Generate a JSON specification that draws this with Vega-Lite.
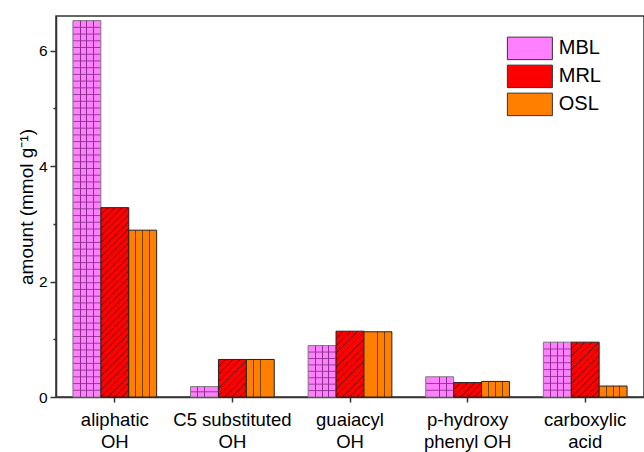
{
  "$schema": "https://vega.github.io/schema/vega-lite/v6.json",
  "width": 588,
  "height": 381,
  "autosize": {"type": "none"},
  "padding": {"left": 56, "top": 16, "right": 0, "bottom": 55},
  "background": "white",
  "config": {
    "font": "Liberation Sans",
    "view": {"stroke": "#333", "strokeWidth": 1.5}
  },
  "data": {
    "values": [
      {"category": "aliphatic OH", "sample": "MBL", "amount": 6.52},
      {"category": "aliphatic OH", "sample": "MRL", "amount": 3.28},
      {"category": "aliphatic OH", "sample": "OSL", "amount": 2.89},
      {"category": "C5 substituted OH", "sample": "MBL", "amount": 0.18},
      {"category": "C5 substituted OH", "sample": "MRL", "amount": 0.65},
      {"category": "C5 substituted OH", "sample": "OSL", "amount": 0.65},
      {"category": "guaiacyl OH", "sample": "MBL", "amount": 0.89},
      {"category": "guaiacyl OH", "sample": "MRL", "amount": 1.14},
      {"category": "guaiacyl OH", "sample": "OSL", "amount": 1.13},
      {"category": "p-hydroxy phenyl OH", "sample": "MBL", "amount": 0.35},
      {"category": "p-hydroxy phenyl OH", "sample": "MRL", "amount": 0.25},
      {"category": "p-hydroxy phenyl OH", "sample": "OSL", "amount": 0.27},
      {"category": "carboxylic acid", "sample": "MBL", "amount": 0.95},
      {"category": "carboxylic acid", "sample": "MRL", "amount": 0.95},
      {"category": "carboxylic acid", "sample": "OSL", "amount": 0.19}
    ]
  },
  "encoding": {
    "x": {
      "field": "category",
      "type": "nominal",
      "sort": ["aliphatic OH", "C5 substituted OH", "guaiacyl OH", "p-hydroxy phenyl OH", "carboxylic acid"],
      "scale": {"paddingInner": 0.288, "paddingOuter": 0.144},
      "axis": {
        "title": null,
        "labelAngle": 0,
        "labelFontSize": 18.5,
        "labelColor": "black",
        "labelLineHeight": 22,
        "labelPadding": 8,
        "tickSize": 5,
        "tickColor": "#333",
        "tickWidth": 1.5,
        "domainColor": "#333",
        "domainWidth": 1.5,
        "labelExpr": "{'aliphatic OH': ['aliphatic', 'OH'], 'C5 substituted OH': ['C5 substituted', 'OH'], 'guaiacyl OH': ['guaiacyl', 'OH'], 'p-hydroxy phenyl OH': ['p-hydroxy', 'phenyl OH'], 'carboxylic acid': ['carboxylic', 'acid']}[datum.label]"
      }
    },
    "xOffset": {"field": "sample", "sort": ["MBL", "MRL", "OSL"], "scale": {"domain": ["MBL", "MRL", "OSL"]}},
    "y": {
      "field": "amount",
      "type": "quantitative",
      "scale": {"domain": [0, 6.6], "nice": false},
      "axis": {
        "title": "amount (mmol g⁻¹)",
        "titleFontSize": 19,
        "titleFontWeight": "normal",
        "titleColor": "black",
        "titlePadding": 2,
        "values": [0, 1, 2, 3, 4, 5, 6],
        "labelExpr": "datum.value % 2 === 0 ? datum.label : ''",
        "labelFontSize": 15.5,
        "labelColor": "black",
        "labelPadding": 3,
        "grid": false,
        "tickSize": {"condition": {"test": "datum.value % 2 === 1", "value": 3}, "value": 6},
        "tickColor": "#333",
        "tickWidth": 1.5,
        "domainColor": "#333",
        "domainWidth": 1.5
      }
    }
  },
  "layer": [
    {
      "mark": {"type": "bar", "strokeWidth": 1},
      "encoding": {
        "stroke": {"condition": {"test": "datum.sample === 'MBL'", "value": "#7a7a7a"}, "value": "#222222"},
        "fill": {
          "field": "sample",
          "type": "nominal",
          "scale": {"domain": ["MBL", "MRL", "OSL"], "range": ["#FF80FF", "#FF0000", "#FF8000"]},
          "legend": {
            "orient": "none",
            "legendX": 463.875,
            "legendY": 22.375,
            "title": null,
            "padding": 0,
            "symbolType": "M-4,-2H4V2H-4Z",
            "symbolSize": 126.5625,
            "symbolStrokeColor": "#333",
            "symbolStrokeWidth": 1,
            "symbolOpacity": 1,
            "labelFontSize": 20,
            "labelColor": "black",
            "labelOffset": 18.875,
            "rowPadding": 0
          },
          "condition": [
            {"test": "datum.sample === 'MBL' && datum.category === 'aliphatic OH'", "value": {"gradient": "linear", "x1": 0, "y1": 0, "x2": 0, "y2": 1, "stops": [
              {"offset": 0, "color": "#FF80FF"},
              {"offset": 0.0152, "color": "#FF80FF"}, {"offset": 0.0179, "color": "#9A3A9A"}, {"offset": 0.0206, "color": "#FF80FF"},
              {"offset": 0.0330, "color": "#FF80FF"}, {"offset": 0.0357, "color": "#9A3A9A"}, {"offset": 0.0384, "color": "#FF80FF"},
              {"offset": 0.0509, "color": "#FF80FF"}, {"offset": 0.0536, "color": "#9A3A9A"}, {"offset": 0.0563, "color": "#FF80FF"},
              {"offset": 0.0687, "color": "#FF80FF"}, {"offset": 0.0714, "color": "#9A3A9A"}, {"offset": 0.0741, "color": "#FF80FF"},
              {"offset": 0.0866, "color": "#FF80FF"}, {"offset": 0.0893, "color": "#9A3A9A"}, {"offset": 0.0920, "color": "#FF80FF"},
              {"offset": 0.1044, "color": "#FF80FF"}, {"offset": 0.1071, "color": "#9A3A9A"}, {"offset": 0.1098, "color": "#FF80FF"},
              {"offset": 0.1223, "color": "#FF80FF"}, {"offset": 0.1250, "color": "#9A3A9A"}, {"offset": 0.1277, "color": "#FF80FF"},
              {"offset": 0.1402, "color": "#FF80FF"}, {"offset": 0.1429, "color": "#9A3A9A"}, {"offset": 0.1456, "color": "#FF80FF"},
              {"offset": 0.1580, "color": "#FF80FF"}, {"offset": 0.1607, "color": "#9A3A9A"}, {"offset": 0.1634, "color": "#FF80FF"},
              {"offset": 0.1759, "color": "#FF80FF"}, {"offset": 0.1786, "color": "#9A3A9A"}, {"offset": 0.1813, "color": "#FF80FF"},
              {"offset": 0.1937, "color": "#FF80FF"}, {"offset": 0.1964, "color": "#9A3A9A"}, {"offset": 0.1991, "color": "#FF80FF"},
              {"offset": 0.2116, "color": "#FF80FF"}, {"offset": 0.2143, "color": "#9A3A9A"}, {"offset": 0.2170, "color": "#FF80FF"},
              {"offset": 0.2294, "color": "#FF80FF"}, {"offset": 0.2321, "color": "#9A3A9A"}, {"offset": 0.2348, "color": "#FF80FF"},
              {"offset": 0.2473, "color": "#FF80FF"}, {"offset": 0.2500, "color": "#9A3A9A"}, {"offset": 0.2527, "color": "#FF80FF"},
              {"offset": 0.2652, "color": "#FF80FF"}, {"offset": 0.2679, "color": "#9A3A9A"}, {"offset": 0.2706, "color": "#FF80FF"},
              {"offset": 0.2830, "color": "#FF80FF"}, {"offset": 0.2857, "color": "#9A3A9A"}, {"offset": 0.2884, "color": "#FF80FF"},
              {"offset": 0.3009, "color": "#FF80FF"}, {"offset": 0.3036, "color": "#9A3A9A"}, {"offset": 0.3063, "color": "#FF80FF"},
              {"offset": 0.3187, "color": "#FF80FF"}, {"offset": 0.3214, "color": "#9A3A9A"}, {"offset": 0.3241, "color": "#FF80FF"},
              {"offset": 0.3366, "color": "#FF80FF"}, {"offset": 0.3393, "color": "#9A3A9A"}, {"offset": 0.3420, "color": "#FF80FF"},
              {"offset": 0.3544, "color": "#FF80FF"}, {"offset": 0.3571, "color": "#9A3A9A"}, {"offset": 0.3598, "color": "#FF80FF"},
              {"offset": 0.3723, "color": "#FF80FF"}, {"offset": 0.3750, "color": "#9A3A9A"}, {"offset": 0.3777, "color": "#FF80FF"},
              {"offset": 0.3902, "color": "#FF80FF"}, {"offset": 0.3929, "color": "#9A3A9A"}, {"offset": 0.3956, "color": "#FF80FF"},
              {"offset": 0.4080, "color": "#FF80FF"}, {"offset": 0.4107, "color": "#9A3A9A"}, {"offset": 0.4134, "color": "#FF80FF"},
              {"offset": 0.4259, "color": "#FF80FF"}, {"offset": 0.4286, "color": "#9A3A9A"}, {"offset": 0.4313, "color": "#FF80FF"},
              {"offset": 0.4437, "color": "#FF80FF"}, {"offset": 0.4464, "color": "#9A3A9A"}, {"offset": 0.4491, "color": "#FF80FF"},
              {"offset": 0.4616, "color": "#FF80FF"}, {"offset": 0.4643, "color": "#9A3A9A"}, {"offset": 0.4670, "color": "#FF80FF"},
              {"offset": 0.4794, "color": "#FF80FF"}, {"offset": 0.4821, "color": "#9A3A9A"}, {"offset": 0.4848, "color": "#FF80FF"},
              {"offset": 0.4973, "color": "#FF80FF"}, {"offset": 0.5000, "color": "#9A3A9A"}, {"offset": 0.5027, "color": "#FF80FF"},
              {"offset": 0.5152, "color": "#FF80FF"}, {"offset": 0.5179, "color": "#9A3A9A"}, {"offset": 0.5206, "color": "#FF80FF"},
              {"offset": 0.5330, "color": "#FF80FF"}, {"offset": 0.5357, "color": "#9A3A9A"}, {"offset": 0.5384, "color": "#FF80FF"},
              {"offset": 0.5509, "color": "#FF80FF"}, {"offset": 0.5536, "color": "#9A3A9A"}, {"offset": 0.5563, "color": "#FF80FF"},
              {"offset": 0.5687, "color": "#FF80FF"}, {"offset": 0.5714, "color": "#9A3A9A"}, {"offset": 0.5741, "color": "#FF80FF"},
              {"offset": 0.5866, "color": "#FF80FF"}, {"offset": 0.5893, "color": "#9A3A9A"}, {"offset": 0.5920, "color": "#FF80FF"},
              {"offset": 0.6044, "color": "#FF80FF"}, {"offset": 0.6071, "color": "#9A3A9A"}, {"offset": 0.6098, "color": "#FF80FF"},
              {"offset": 0.6223, "color": "#FF80FF"}, {"offset": 0.6250, "color": "#9A3A9A"}, {"offset": 0.6277, "color": "#FF80FF"},
              {"offset": 0.6402, "color": "#FF80FF"}, {"offset": 0.6429, "color": "#9A3A9A"}, {"offset": 0.6456, "color": "#FF80FF"},
              {"offset": 0.6580, "color": "#FF80FF"}, {"offset": 0.6607, "color": "#9A3A9A"}, {"offset": 0.6634, "color": "#FF80FF"},
              {"offset": 0.6759, "color": "#FF80FF"}, {"offset": 0.6786, "color": "#9A3A9A"}, {"offset": 0.6813, "color": "#FF80FF"},
              {"offset": 0.6937, "color": "#FF80FF"}, {"offset": 0.6964, "color": "#9A3A9A"}, {"offset": 0.6991, "color": "#FF80FF"},
              {"offset": 0.7116, "color": "#FF80FF"}, {"offset": 0.7143, "color": "#9A3A9A"}, {"offset": 0.7170, "color": "#FF80FF"},
              {"offset": 0.7294, "color": "#FF80FF"}, {"offset": 0.7321, "color": "#9A3A9A"}, {"offset": 0.7348, "color": "#FF80FF"},
              {"offset": 0.7473, "color": "#FF80FF"}, {"offset": 0.7500, "color": "#9A3A9A"}, {"offset": 0.7527, "color": "#FF80FF"},
              {"offset": 0.7652, "color": "#FF80FF"}, {"offset": 0.7679, "color": "#9A3A9A"}, {"offset": 0.7706, "color": "#FF80FF"},
              {"offset": 0.7830, "color": "#FF80FF"}, {"offset": 0.7857, "color": "#9A3A9A"}, {"offset": 0.7884, "color": "#FF80FF"},
              {"offset": 0.8009, "color": "#FF80FF"}, {"offset": 0.8036, "color": "#9A3A9A"}, {"offset": 0.8063, "color": "#FF80FF"},
              {"offset": 0.8187, "color": "#FF80FF"}, {"offset": 0.8214, "color": "#9A3A9A"}, {"offset": 0.8241, "color": "#FF80FF"},
              {"offset": 0.8366, "color": "#FF80FF"}, {"offset": 0.8393, "color": "#9A3A9A"}, {"offset": 0.8420, "color": "#FF80FF"},
              {"offset": 0.8544, "color": "#FF80FF"}, {"offset": 0.8571, "color": "#9A3A9A"}, {"offset": 0.8598, "color": "#FF80FF"},
              {"offset": 0.8723, "color": "#FF80FF"}, {"offset": 0.8750, "color": "#9A3A9A"}, {"offset": 0.8777, "color": "#FF80FF"},
              {"offset": 0.8902, "color": "#FF80FF"}, {"offset": 0.8929, "color": "#9A3A9A"}, {"offset": 0.8956, "color": "#FF80FF"},
              {"offset": 0.9080, "color": "#FF80FF"}, {"offset": 0.9107, "color": "#9A3A9A"}, {"offset": 0.9134, "color": "#FF80FF"},
              {"offset": 0.9259, "color": "#FF80FF"}, {"offset": 0.9286, "color": "#9A3A9A"}, {"offset": 0.9313, "color": "#FF80FF"},
              {"offset": 0.9437, "color": "#FF80FF"}, {"offset": 0.9464, "color": "#9A3A9A"}, {"offset": 0.9491, "color": "#FF80FF"},
              {"offset": 0.9616, "color": "#FF80FF"}, {"offset": 0.9643, "color": "#9A3A9A"}, {"offset": 0.9670, "color": "#FF80FF"},
              {"offset": 0.9794, "color": "#FF80FF"}, {"offset": 0.9821, "color": "#9A3A9A"}, {"offset": 0.9848, "color": "#FF80FF"},
              {"offset": 1, "color": "#FF80FF"}
            ]}},
            {"test": "datum.sample === 'MBL' && datum.category === 'C5 substituted OH'", "value": {"gradient": "linear", "x1": 0, "y1": 0, "x2": 0, "y2": 1, "stops": [
              {"offset": 0, "color": "#FF80FF"},
              {"offset": 0.40, "color": "#FF80FF"}, {"offset": 0.5, "color": "#9A3A9A"}, {"offset": 0.60, "color": "#FF80FF"},
              {"offset": 1, "color": "#FF80FF"}
            ]}},
            {"test": "datum.sample === 'MBL' && datum.category === 'guaiacyl OH'", "value": {"gradient": "linear", "x1": 0, "y1": 0, "x2": 0, "y2": 1, "stops": [
              {"offset": 0, "color": "#FF80FF"},
              {"offset": 0.1055, "color": "#FF80FF"}, {"offset": 0.125, "color": "#9A3A9A"}, {"offset": 0.1445, "color": "#FF80FF"},
              {"offset": 0.2305, "color": "#FF80FF"}, {"offset": 0.25, "color": "#9A3A9A"}, {"offset": 0.2695, "color": "#FF80FF"},
              {"offset": 0.3555, "color": "#FF80FF"}, {"offset": 0.375, "color": "#9A3A9A"}, {"offset": 0.3945, "color": "#FF80FF"},
              {"offset": 0.4805, "color": "#FF80FF"}, {"offset": 0.5, "color": "#9A3A9A"}, {"offset": 0.5195, "color": "#FF80FF"},
              {"offset": 0.6055, "color": "#FF80FF"}, {"offset": 0.625, "color": "#9A3A9A"}, {"offset": 0.6445, "color": "#FF80FF"},
              {"offset": 0.7305, "color": "#FF80FF"}, {"offset": 0.75, "color": "#9A3A9A"}, {"offset": 0.7695, "color": "#FF80FF"},
              {"offset": 0.8555, "color": "#FF80FF"}, {"offset": 0.875, "color": "#9A3A9A"}, {"offset": 0.8945, "color": "#FF80FF"},
              {"offset": 1, "color": "#FF80FF"}
            ]}},
            {"test": "datum.sample === 'MBL' && datum.category === 'p-hydroxy phenyl OH'", "value": {"gradient": "linear", "x1": 0, "y1": 0, "x2": 0, "y2": 1, "stops": [
              {"offset": 0, "color": "#FF80FF"},
              {"offset": 0.2833, "color": "#FF80FF"}, {"offset": 0.3333, "color": "#9A3A9A"}, {"offset": 0.3833, "color": "#FF80FF"},
              {"offset": 0.6167, "color": "#FF80FF"}, {"offset": 0.6667, "color": "#9A3A9A"}, {"offset": 0.7167, "color": "#FF80FF"},
              {"offset": 1, "color": "#FF80FF"}
            ]}},
            {"test": "datum.sample === 'MBL' && datum.category === 'carboxylic acid'", "value": {"gradient": "linear", "x1": 0, "y1": 0, "x2": 0, "y2": 1, "stops": [
              {"offset": 0, "color": "#FF80FF"},
              {"offset": 0.107, "color": "#FF80FF"}, {"offset": 0.125, "color": "#9A3A9A"}, {"offset": 0.143, "color": "#FF80FF"},
              {"offset": 0.232, "color": "#FF80FF"}, {"offset": 0.25, "color": "#9A3A9A"}, {"offset": 0.268, "color": "#FF80FF"},
              {"offset": 0.357, "color": "#FF80FF"}, {"offset": 0.375, "color": "#9A3A9A"}, {"offset": 0.393, "color": "#FF80FF"},
              {"offset": 0.482, "color": "#FF80FF"}, {"offset": 0.5, "color": "#9A3A9A"}, {"offset": 0.518, "color": "#FF80FF"},
              {"offset": 0.607, "color": "#FF80FF"}, {"offset": 0.625, "color": "#9A3A9A"}, {"offset": 0.643, "color": "#FF80FF"},
              {"offset": 0.732, "color": "#FF80FF"}, {"offset": 0.75, "color": "#9A3A9A"}, {"offset": 0.768, "color": "#FF80FF"},
              {"offset": 0.857, "color": "#FF80FF"}, {"offset": 0.875, "color": "#9A3A9A"}, {"offset": 0.893, "color": "#FF80FF"},
              {"offset": 1, "color": "#FF80FF"}
            ]}},
            {"test": "datum.sample === 'MRL' && datum.category === 'aliphatic OH'", "value": {"gradient": "linear", "x1": 0, "y1": 0, "x2": 0.1655, "y2": 1.1229, "stops": [
              {"offset": 0, "color": "#FF0000"},
              {"offset": 0.0278, "color": "#FF0000"}, {"offset": 0.0323, "color": "#700000"}, {"offset": 0.0368, "color": "#FF0000"},
              {"offset": 0.0600, "color": "#FF0000"}, {"offset": 0.0645, "color": "#700000"}, {"offset": 0.0690, "color": "#FF0000"},
              {"offset": 0.0923, "color": "#FF0000"}, {"offset": 0.0968, "color": "#700000"}, {"offset": 0.1013, "color": "#FF0000"},
              {"offset": 0.1245, "color": "#FF0000"}, {"offset": 0.1290, "color": "#700000"}, {"offset": 0.1335, "color": "#FF0000"},
              {"offset": 0.1568, "color": "#FF0000"}, {"offset": 0.1613, "color": "#700000"}, {"offset": 0.1658, "color": "#FF0000"},
              {"offset": 0.1890, "color": "#FF0000"}, {"offset": 0.1935, "color": "#700000"}, {"offset": 0.1980, "color": "#FF0000"},
              {"offset": 0.2213, "color": "#FF0000"}, {"offset": 0.2258, "color": "#700000"}, {"offset": 0.2303, "color": "#FF0000"},
              {"offset": 0.2536, "color": "#FF0000"}, {"offset": 0.2581, "color": "#700000"}, {"offset": 0.2626, "color": "#FF0000"},
              {"offset": 0.2858, "color": "#FF0000"}, {"offset": 0.2903, "color": "#700000"}, {"offset": 0.2948, "color": "#FF0000"},
              {"offset": 0.3181, "color": "#FF0000"}, {"offset": 0.3226, "color": "#700000"}, {"offset": 0.3271, "color": "#FF0000"},
              {"offset": 0.3503, "color": "#FF0000"}, {"offset": 0.3548, "color": "#700000"}, {"offset": 0.3593, "color": "#FF0000"},
              {"offset": 0.3826, "color": "#FF0000"}, {"offset": 0.3871, "color": "#700000"}, {"offset": 0.3916, "color": "#FF0000"},
              {"offset": 0.4149, "color": "#FF0000"}, {"offset": 0.4194, "color": "#700000"}, {"offset": 0.4239, "color": "#FF0000"},
              {"offset": 0.4471, "color": "#FF0000"}, {"offset": 0.4516, "color": "#700000"}, {"offset": 0.4561, "color": "#FF0000"},
              {"offset": 0.4794, "color": "#FF0000"}, {"offset": 0.4839, "color": "#700000"}, {"offset": 0.4884, "color": "#FF0000"},
              {"offset": 0.5116, "color": "#FF0000"}, {"offset": 0.5161, "color": "#700000"}, {"offset": 0.5206, "color": "#FF0000"},
              {"offset": 0.5439, "color": "#FF0000"}, {"offset": 0.5484, "color": "#700000"}, {"offset": 0.5529, "color": "#FF0000"},
              {"offset": 0.5761, "color": "#FF0000"}, {"offset": 0.5806, "color": "#700000"}, {"offset": 0.5851, "color": "#FF0000"},
              {"offset": 0.6084, "color": "#FF0000"}, {"offset": 0.6129, "color": "#700000"}, {"offset": 0.6174, "color": "#FF0000"},
              {"offset": 0.6407, "color": "#FF0000"}, {"offset": 0.6452, "color": "#700000"}, {"offset": 0.6497, "color": "#FF0000"},
              {"offset": 0.6729, "color": "#FF0000"}, {"offset": 0.6774, "color": "#700000"}, {"offset": 0.6819, "color": "#FF0000"},
              {"offset": 0.7052, "color": "#FF0000"}, {"offset": 0.7097, "color": "#700000"}, {"offset": 0.7142, "color": "#FF0000"},
              {"offset": 0.7374, "color": "#FF0000"}, {"offset": 0.7419, "color": "#700000"}, {"offset": 0.7464, "color": "#FF0000"},
              {"offset": 0.7697, "color": "#FF0000"}, {"offset": 0.7742, "color": "#700000"}, {"offset": 0.7787, "color": "#FF0000"},
              {"offset": 0.8020, "color": "#FF0000"}, {"offset": 0.8065, "color": "#700000"}, {"offset": 0.8110, "color": "#FF0000"},
              {"offset": 0.8342, "color": "#FF0000"}, {"offset": 0.8387, "color": "#700000"}, {"offset": 0.8432, "color": "#FF0000"},
              {"offset": 0.8665, "color": "#FF0000"}, {"offset": 0.8710, "color": "#700000"}, {"offset": 0.8755, "color": "#FF0000"},
              {"offset": 0.8987, "color": "#FF0000"}, {"offset": 0.9032, "color": "#700000"}, {"offset": 0.9077, "color": "#FF0000"},
              {"offset": 0.9310, "color": "#FF0000"}, {"offset": 0.9355, "color": "#700000"}, {"offset": 0.9400, "color": "#FF0000"},
              {"offset": 0.9632, "color": "#FF0000"}, {"offset": 0.9677, "color": "#700000"}, {"offset": 0.9722, "color": "#FF0000"},
              {"offset": 1, "color": "#FF0000"}
            ]}},
            {"test": "datum.sample === 'MRL' && datum.category === 'C5 substituted OH'", "value": {"gradient": "linear", "x1": 0, "y1": 0, "x2": 0.8354, "y2": 1.1228, "stops": [
              {"offset": 0, "color": "#FF0000"},
              {"offset": 0.0961, "color": "#FF0000"}, {"offset": 0.1111, "color": "#700000"}, {"offset": 0.1261, "color": "#FF0000"},
              {"offset": 0.2072, "color": "#FF0000"}, {"offset": 0.2222, "color": "#700000"}, {"offset": 0.2372, "color": "#FF0000"},
              {"offset": 0.3183, "color": "#FF0000"}, {"offset": 0.3333, "color": "#700000"}, {"offset": 0.3483, "color": "#FF0000"},
              {"offset": 0.4294, "color": "#FF0000"}, {"offset": 0.4444, "color": "#700000"}, {"offset": 0.4594, "color": "#FF0000"},
              {"offset": 0.5406, "color": "#FF0000"}, {"offset": 0.5556, "color": "#700000"}, {"offset": 0.5706, "color": "#FF0000"},
              {"offset": 0.6517, "color": "#FF0000"}, {"offset": 0.6667, "color": "#700000"}, {"offset": 0.6817, "color": "#FF0000"},
              {"offset": 0.7628, "color": "#FF0000"}, {"offset": 0.7778, "color": "#700000"}, {"offset": 0.7928, "color": "#FF0000"},
              {"offset": 0.8739, "color": "#FF0000"}, {"offset": 0.8889, "color": "#700000"}, {"offset": 0.9039, "color": "#FF0000"},
              {"offset": 1, "color": "#FF0000"}
            ]}},
            {"test": "datum.sample === 'MRL' && datum.category === 'guaiacyl OH'", "value": {"gradient": "linear", "x1": 0, "y1": 0, "x2": 0.5118, "y2": 1.2068, "stops": [
              {"offset": 0, "color": "#FF0000"},
              {"offset": 0.0664, "color": "#FF0000"}, {"offset": 0.0769, "color": "#700000"}, {"offset": 0.0874, "color": "#FF0000"},
              {"offset": 0.1433, "color": "#FF0000"}, {"offset": 0.1538, "color": "#700000"}, {"offset": 0.1643, "color": "#FF0000"},
              {"offset": 0.2203, "color": "#FF0000"}, {"offset": 0.2308, "color": "#700000"}, {"offset": 0.2413, "color": "#FF0000"},
              {"offset": 0.2972, "color": "#FF0000"}, {"offset": 0.3077, "color": "#700000"}, {"offset": 0.3182, "color": "#FF0000"},
              {"offset": 0.3741, "color": "#FF0000"}, {"offset": 0.3846, "color": "#700000"}, {"offset": 0.3951, "color": "#FF0000"},
              {"offset": 0.4510, "color": "#FF0000"}, {"offset": 0.4615, "color": "#700000"}, {"offset": 0.4720, "color": "#FF0000"},
              {"offset": 0.5280, "color": "#FF0000"}, {"offset": 0.5385, "color": "#700000"}, {"offset": 0.5490, "color": "#FF0000"},
              {"offset": 0.6049, "color": "#FF0000"}, {"offset": 0.6154, "color": "#700000"}, {"offset": 0.6259, "color": "#FF0000"},
              {"offset": 0.6818, "color": "#FF0000"}, {"offset": 0.6923, "color": "#700000"}, {"offset": 0.7028, "color": "#FF0000"},
              {"offset": 0.7587, "color": "#FF0000"}, {"offset": 0.7692, "color": "#700000"}, {"offset": 0.7797, "color": "#FF0000"},
              {"offset": 0.8357, "color": "#FF0000"}, {"offset": 0.8462, "color": "#700000"}, {"offset": 0.8567, "color": "#FF0000"},
              {"offset": 0.9126, "color": "#FF0000"}, {"offset": 0.9231, "color": "#700000"}, {"offset": 0.9336, "color": "#FF0000"},
              {"offset": 1, "color": "#FF0000"}
            ]}},
            {"test": "datum.sample === 'MRL' && datum.category === 'p-hydroxy phenyl OH'", "value": {"gradient": "linear", "x1": 0, "y1": 0, "x2": 1.197, "y2": 0.6177, "stops": [
              {"offset": 0, "color": "#FF0000"},
              {"offset": 0.1437, "color": "#FF0000"}, {"offset": 0.1667, "color": "#700000"}, {"offset": 0.1897, "color": "#FF0000"},
              {"offset": 0.3103, "color": "#FF0000"}, {"offset": 0.3333, "color": "#700000"}, {"offset": 0.3563, "color": "#FF0000"},
              {"offset": 0.477, "color": "#FF0000"}, {"offset": 0.5, "color": "#700000"}, {"offset": 0.523, "color": "#FF0000"},
              {"offset": 0.6437, "color": "#FF0000"}, {"offset": 0.6667, "color": "#700000"}, {"offset": 0.6897, "color": "#FF0000"},
              {"offset": 0.8103, "color": "#FF0000"}, {"offset": 0.8333, "color": "#700000"}, {"offset": 0.8563, "color": "#FF0000"},
              {"offset": 1, "color": "#FF0000"}
            ]}},
            {"test": "datum.sample === 'MRL' && datum.category === 'carboxylic acid'", "value": {"gradient": "linear", "x1": 0, "y1": 0, "x2": 0.6101, "y2": 1.1982, "stops": [
              {"offset": 0, "color": "#FF0000"},
              {"offset": 0.0713, "color": "#FF0000"}, {"offset": 0.0833, "color": "#700000"}, {"offset": 0.0953, "color": "#FF0000"},
              {"offset": 0.1547, "color": "#FF0000"}, {"offset": 0.1667, "color": "#700000"}, {"offset": 0.1787, "color": "#FF0000"},
              {"offset": 0.238, "color": "#FF0000"}, {"offset": 0.25, "color": "#700000"}, {"offset": 0.262, "color": "#FF0000"},
              {"offset": 0.3213, "color": "#FF0000"}, {"offset": 0.3333, "color": "#700000"}, {"offset": 0.3453, "color": "#FF0000"},
              {"offset": 0.4047, "color": "#FF0000"}, {"offset": 0.4167, "color": "#700000"}, {"offset": 0.4287, "color": "#FF0000"},
              {"offset": 0.488, "color": "#FF0000"}, {"offset": 0.5, "color": "#700000"}, {"offset": 0.512, "color": "#FF0000"},
              {"offset": 0.5713, "color": "#FF0000"}, {"offset": 0.5833, "color": "#700000"}, {"offset": 0.5953, "color": "#FF0000"},
              {"offset": 0.6547, "color": "#FF0000"}, {"offset": 0.6667, "color": "#700000"}, {"offset": 0.6787, "color": "#FF0000"},
              {"offset": 0.738, "color": "#FF0000"}, {"offset": 0.75, "color": "#700000"}, {"offset": 0.762, "color": "#FF0000"},
              {"offset": 0.8213, "color": "#FF0000"}, {"offset": 0.8333, "color": "#700000"}, {"offset": 0.8453, "color": "#FF0000"},
              {"offset": 0.9047, "color": "#FF0000"}, {"offset": 0.9167, "color": "#700000"}, {"offset": 0.9287, "color": "#FF0000"},
              {"offset": 1, "color": "#FF0000"}
            ]}},
            {"test": "datum.sample === 'OSL'", "value": {"gradient": "linear", "x1": 0, "y1": 0, "x2": 1, "y2": 0, "stops": [
              {"offset": 0, "color": "#FF8000"}, {"offset": 0.235, "color": "#FF8000"},
              {"offset": 0.235, "color": "#7A3D00"}, {"offset": 0.265, "color": "#7A3D00"},
              {"offset": 0.265, "color": "#FF8000"}, {"offset": 0.485, "color": "#FF8000"},
              {"offset": 0.485, "color": "#7A3D00"}, {"offset": 0.515, "color": "#7A3D00"},
              {"offset": 0.515, "color": "#FF8000"}, {"offset": 0.725, "color": "#FF8000"},
              {"offset": 0.725, "color": "#7A3D00"}, {"offset": 0.755, "color": "#7A3D00"},
              {"offset": 0.755, "color": "#FF8000"}, {"offset": 1, "color": "#FF8000"}
            ]}}
          ]
        }
      }
    },
    {
      "transform": [{"filter": "datum.sample === 'MBL'"}],
      "mark": {"type": "bar", "strokeWidth": 0, "fill": {"gradient": "linear", "x1": 0, "y1": 0, "x2": 1, "y2": 0, "stops": [
        {"offset": 0, "color": "rgba(138,48,138,0)"}, {"offset": 0.245, "color": "rgba(138,48,138,0)"},
        {"offset": 0.245, "color": "rgba(138,48,138,1)"}, {"offset": 0.275, "color": "rgba(138,48,138,1)"},
        {"offset": 0.275, "color": "rgba(138,48,138,0)"}, {"offset": 0.485, "color": "rgba(138,48,138,0)"},
        {"offset": 0.485, "color": "rgba(138,48,138,1)"}, {"offset": 0.515, "color": "rgba(138,48,138,1)"},
        {"offset": 0.515, "color": "rgba(138,48,138,0)"}, {"offset": 0.72, "color": "rgba(138,48,138,0)"},
        {"offset": 0.72, "color": "rgba(138,48,138,1)"}, {"offset": 0.75, "color": "rgba(138,48,138,1)"},
        {"offset": 0.75, "color": "rgba(138,48,138,0)"}, {"offset": 1, "color": "rgba(138,48,138,0)"}
      ]}},
      "encoding": {}
    }
  ]
}
